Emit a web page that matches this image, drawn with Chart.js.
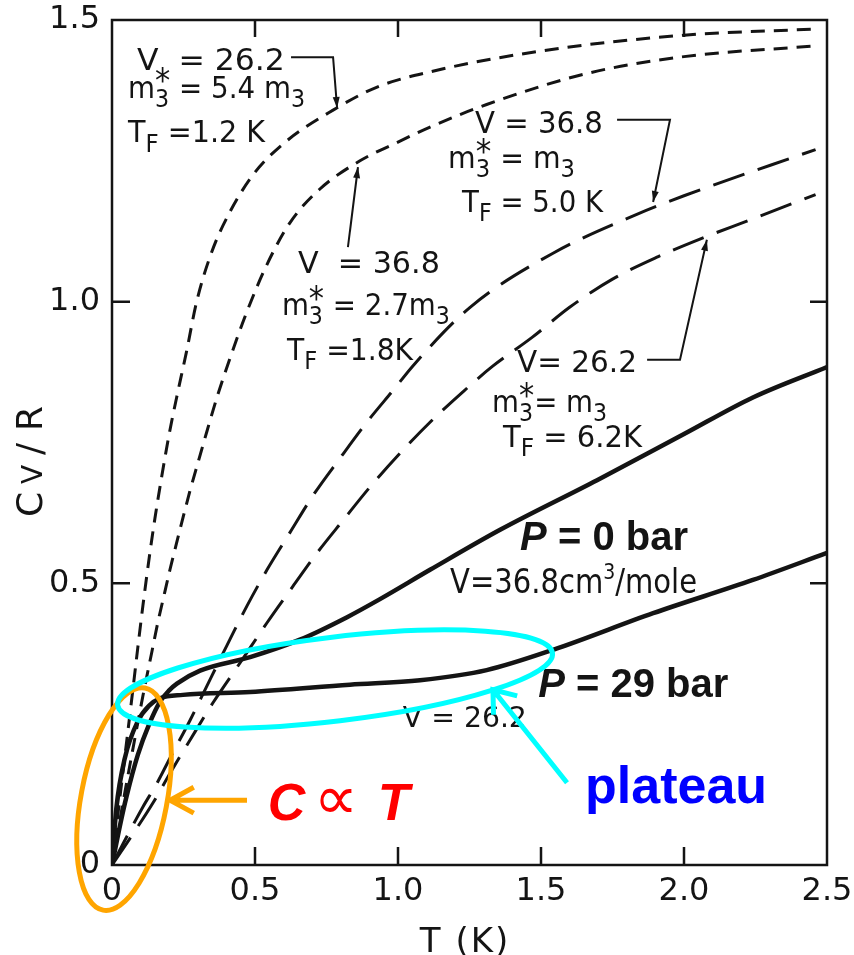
<!DOCTYPE html>
<html>
<head>
<meta charset="utf-8">
<title>Cv/R of liquid 3He</title>
<script src="https://cdn.jsdelivr.net/npm/chart.js@4.4.1/dist/chart.umd.min.js"></script>
<style>
  html, body { margin: 0; padding: 0; background: #fff; }
  #wrap { width: 854px; height: 955px; }
</style>
</head>
<body>
<div id="wrap"><canvas id="cv" width="854" height="955"></canvas></div>
<script>
// ideal Fermi gas, V=26.2, m3* = 5.4 m3, TF = 1.2 K
const T_A  = [0, 0.03, 0.055, 0.075, 0.09, 0.108, 0.13, 0.15, 0.174, 0.2, 0.226, 0.26, 0.296, 0.35, 0.413, 0.493, 0.598, 0.773, 0.927, 1.112, 1.5, 2.0, 2.46];
const CV_A = [0, 0.13, 0.235, 0.32, 0.385, 0.46, 0.545, 0.615, 0.69, 0.765, 0.83, 0.91, 1.0, 1.09, 1.16, 1.225, 1.28, 1.34, 1.381, 1.408, 1.445, 1.473, 1.484];
// ideal Fermi gas, V=36.8, m3* = 2.7 m3, TF = 1.8 K
const T_B  = [0, 0.04, 0.08, 0.108, 0.14, 0.16, 0.178, 0.203, 0.225, 0.25, 0.273, 0.301, 0.332, 0.367, 0.413, 0.47, 0.541, 0.622, 0.727, 0.867, 1.007, 1.112, 1.31, 1.66, 2.0, 2.46];
const CV_B = [0, 0.115, 0.225, 0.3, 0.38, 0.43, 0.47, 0.525, 0.57, 0.62, 0.665, 0.715, 0.77, 0.83, 0.9, 0.98, 1.065, 1.14, 1.2, 1.25, 1.285, 1.31, 1.35, 1.405, 1.435, 1.454];
// ideal Fermi gas, V=36.8, m3* = m3, TF = 5.0 K
const T_C  = [0, 0.04, 0.108, 0.157, 0.203, 0.273, 0.332, 0.402, 0.472, 0.542, 0.622, 0.703, 0.797, 0.891, 0.99, 1.052, 1.252, 1.542, 1.835, 2.0, 2.46];
const CV_C = [0, 0.039, 0.103, 0.145, 0.19, 0.257, 0.318, 0.39, 0.46, 0.524, 0.59, 0.656, 0.722, 0.786, 0.847, 0.886, 0.99, 1.086, 1.155, 1.188, 1.27];
// ideal Fermi gas, V=26.2, m3* = m3, TF = 6.2 K
const T_D  = [0, 0.06, 0.143, 0.203, 0.273, 0.353, 0.448, 0.542, 0.633, 0.717, 0.808, 0.902, 1.007, 1.112, 1.227, 1.33, 1.47, 1.6, 1.75, 1.91, 2.06, 2.23, 2.46];
const CV_D = [0, 0.045, 0.11, 0.163, 0.222, 0.288, 0.359, 0.43, 0.495, 0.554, 0.612, 0.671, 0.731, 0.786, 0.84, 0.885, 0.937, 0.99, 1.04, 1.08, 1.112, 1.145, 1.19];
// measured, P = 0 bar (V = 36.8 cm3/mole)
const T_P0  = [0, 0.03, 0.05, 0.09, 0.13, 0.168, 0.2, 0.227, 0.308, 0.483, 0.657, 0.822, 0.937, 1.112, 1.357, 1.696, 2.0, 2.241, 2.5];
const CV_P0 = [0, 0.075, 0.12, 0.195, 0.25, 0.29, 0.31, 0.322, 0.345, 0.369, 0.4, 0.44, 0.472, 0.524, 0.595, 0.683, 0.765, 0.83, 0.884];
// measured, P = 29 bar (V = 26.2)
const T_P29  = [0, 0.015, 0.045, 0.09, 0.13, 0.168, 0.248, 0.483, 0.832, 1.077, 1.31, 1.542, 1.892, 2.241, 2.5];
const CV_P29 = [0, 0.1, 0.19, 0.255, 0.283, 0.296, 0.302, 0.307, 0.32, 0.328, 0.346, 0.382, 0.447, 0.506, 0.554];

const xTickVals = [0, 0.5, 1.0, 1.5, 2.0, 2.5];
const yTickVals = [0, 0.5, 1.0, 1.5];
const xInner = [0.5, 1.0, 1.5, 2.0];
const yInner = [0.5, 1.0];

const pts = (xs, ys) => xs.map((v, i) => ({ x: v, y: ys[i] }));
const fmt = v => (v === 0 ? '0' : v.toFixed(1));

const INK = '#141414';
const SHORT = [14, 9], LONG = [33, 14];

function curve(xs, ys, dash, width) {
  return {
    data: pts(xs, ys), borderColor: INK, borderWidth: width, borderDash: dash,
    pointRadius: 0, fill: false, cubicInterpolationMode: 'monotone', borderCapStyle: 'butt'
  };
}

// text run with sub/superscripts, measured or drawn at the origin
function run(ctx, parts, size, draw) {
  let cx = 0;
  for (const p of parts) {
    if (typeof p === 'string') {
      ctx.font = `${size}px "DejaVu Sans"`;
      if (draw) ctx.fillText(p, cx, 0);
      cx += ctx.measureText(p).width;
    } else {
      let w = 0;
      if (p.sup) {
        ctx.font = `${size * (p.supK || 0.8)}px "DejaVu Sans"`;
        if (draw) ctx.fillText(p.sup, cx, -size * (p.up == null ? 0.5 : p.up));
        w = Math.max(w, ctx.measureText(p.sup).width);
      }
      if (p.sub) {
        ctx.font = `${size * 0.8}px "DejaVu Sans"`;
        if (draw) ctx.fillText(p.sub, cx, size * 0.3);
        w = Math.max(w, ctx.measureText(p.sub).width);
      }
      cx += w;
    }
  }
  return cx;
}
function label(ctx, px, py, parts, size, width) {
  const w0 = run(ctx, parts, size, false);
  ctx.save();
  ctx.translate(px, py);
  if (width) ctx.scale(width / w0, 1);
  run(ctx, parts, size, true);
  ctx.restore();
}

const MSTAR = { sup: '*', supK: 1.1, up: 0.18, sub: '3' };
const notes = [
  { at: [0.087, 1.411], parts: ['V  = 26.2'], w: 148 },
  { at: [0.056, 1.362], parts: ['m', MSTAR, ' = 5.4 m', { sub: '3' }], w: 177 },
  { at: [0.056, 1.283], parts: ['T', { sub: 'F' }, ' =1.2 K'], w: 137 },
  { at: [0.65, 1.051], parts: ['V  = 36.8'], w: 142 },
  { at: [0.594, 0.976], parts: ['m', MSTAR, ' = 2.7m', { sub: '3' }], w: 168 },
  { at: [0.612, 0.897], parts: ['T', { sub: 'F' }, ' =1.8K'], w: 126 },
  { at: [1.269, 1.3], parts: ['V = 36.8'], w: 128 },
  { at: [1.175, 1.237], parts: ['m', MSTAR, ' = m', { sub: '3' }], w: 127 },
  { at: [1.224, 1.159], parts: ['T', { sub: 'F' }, ' = 5.0 K'], w: 141 },
  { at: [1.416, 0.875], parts: ['V= 26.2'], w: 120 },
  { at: [1.329, 0.804], parts: ['m', MSTAR, '= m', { sub: '3' }], w: 115 },
  { at: [1.367, 0.742], parts: ['T', { sub: 'F' }, ' = 6.2K'], w: 139 },
  { at: [1.182, 0.483], parts: ['V=36.8cm', { sup: '3', supK: 0.65, up: 0.42 }, '/mole'], w: 247, size: 33 },
  { at: [1.017, 0.245], parts: ['V = 26.2'], w: 124, size: 28 }
];
// leader lines, arrow at the last point
const leaders = [
  [[0.626, 1.434], [0.773, 1.434], [0.787, 1.344]],
  [[0.825, 1.097], [0.86, 1.239]],
  [[1.766, 1.323], [1.951, 1.323], [1.892, 1.177]],
  [[1.871, 0.897], [1.986, 0.897], [2.08, 1.11]]
];

function arrowTip(ctx, x0, y0, x1, y1, len, half) {
  const a = Math.atan2(y1 - y0, x1 - x0);
  ctx.beginPath();
  ctx.moveTo(x1, y1);
  ctx.lineTo(x1 - len * Math.cos(a) + half * Math.sin(a), y1 - len * Math.sin(a) - half * Math.cos(a));
  ctx.lineTo(x1 - len * Math.cos(a) - half * Math.sin(a), y1 - len * Math.sin(a) + half * Math.cos(a));
  ctx.closePath();
  ctx.fill();
}
function openArrow(ctx, x0, y0, x1, y1, len, spread) {
  const a = Math.atan2(y0 - y1, x0 - x1);
  ctx.beginPath();
  ctx.moveTo(x0, y0); ctx.lineTo(x1, y1);
  ctx.moveTo(x1 + len * Math.cos(a + spread), y1 + len * Math.sin(a + spread));
  ctx.lineTo(x1, y1);
  ctx.lineTo(x1 + len * Math.cos(a - spread), y1 + len * Math.sin(a - spread));
  ctx.stroke();
}

const decor = {
  id: 'decor',
  afterDatasetsDraw(chart) {
    const { ctx, chartArea: a, scales: { x, y } } = chart;
    const X = v => x.getPixelForValue(v), Y = v => y.getPixelForValue(v);
    ctx.save();
    ctx.strokeStyle = INK; ctx.fillStyle = INK;
    ctx.lineWidth = 2.5; ctx.lineCap = 'butt';
    ctx.strokeRect(a.left, a.top, a.right - a.left, a.bottom - a.top);
    ctx.beginPath();
    xInner.forEach(v => {
      ctx.moveTo(X(v), a.bottom); ctx.lineTo(X(v), a.bottom - 18);
      ctx.moveTo(X(v), a.top); ctx.lineTo(X(v), a.top + 17);
    });
    yInner.forEach(v => {
      ctx.moveTo(a.left, Y(v)); ctx.lineTo(a.left + 18, Y(v));
      ctx.moveTo(a.right, Y(v)); ctx.lineTo(a.right - 17, Y(v));
    });
    ctx.stroke();

    // axis titles
    ctx.textBaseline = 'alphabetic';
    ctx.font = '34px "DejaVu Sans"';
    ctx.textAlign = 'center';
    ctx.letterSpacing = '2px';
    ctx.fillText('T (K)', 465, 952);
    ctx.letterSpacing = '0px';
    ctx.textAlign = 'left';
    ctx.save();
    ctx.translate(42, 517);
    ctx.rotate(-Math.PI / 2);
    ctx.font = '36px "DejaVu Sans"';
    ctx.fillText('C', 0, 0);
    ctx.fillText('/', 62, 0);
    ctx.fillText('R', 86, 0);
    ctx.font = '28px "DejaVu Sans"';
    ctx.fillText('V', 33, 0);
    ctx.restore();

    // curve labels
    notes.forEach(n => label(ctx, X(n.at[0]), Y(n.at[1]), n.parts, n.size || 31, n.w));
    ctx.lineWidth = 2;
    leaders.forEach(l => {
      ctx.beginPath();
      l.forEach((p, i) => (i ? ctx.lineTo(X(p[0]), Y(p[1])) : ctx.moveTo(X(p[0]), Y(p[1]))));
      ctx.stroke();
      const p0 = l[l.length - 2], p1 = l[l.length - 1];
      arrowTip(ctx, X(p0[0]), Y(p0[1]), X(p1[0]), Y(p1[1]), 11, 3.5);
    });

    ctx.font = 'italic bold 40px "Liberation Sans"';
    ctx.fillText('P', X(1.427), Y(0.559));
    ctx.fillText('P', X(1.49), Y(0.298));
    const wp = ctx.measureText('P').width;
    ctx.font = 'bold 40px "Liberation Sans"';
    ctx.fillText(' = 0 bar', X(1.427) + wp, Y(0.559));
    ctx.fillText(' = 29 bar', X(1.49) + wp, Y(0.298));

    // highlighted regions
    ctx.lineWidth = 5;
    ctx.strokeStyle = '#FFA500';
    ctx.beginPath();
    ctx.ellipse(X(0.042), Y(0.117), 113, 43, -1.384, 0, Math.PI * 2);
    ctx.stroke();
    openArrow(ctx, X(0.472), Y(0.115), X(0.203), Y(0.115), 27, 0.5);

    ctx.strokeStyle = '#00FFFF';
    ctx.beginPath();
    ctx.ellipse(X(0.78), Y(0.33), 219, 42, -0.119, 0, Math.PI * 2);
    ctx.stroke();
    openArrow(ctx, X(1.591), Y(0.146), X(1.332), Y(0.311), 25, 0.65);

    const cx = X(0.545), cy = Y(0.08);
    ctx.fillStyle = '#FF0000';
    ctx.font = 'italic bold 52px "Liberation Sans"';
    ctx.fillText('C', cx, cy);
    ctx.fillText('T', cx + 110, cy);
    ctx.font = '62px "DejaVu Sans"';
    ctx.fillText('\u221D', cx + 46, cy - 1);

    ctx.fillStyle = '#0000FF';
    ctx.font = 'bold 52px "Liberation Sans"';
    ctx.fillText('plateau', X(1.654), Y(0.11));
    ctx.restore();
  }
};

const tickFont = { family: 'DejaVu Sans', size: 32 };
new Chart(document.getElementById('cv'), {
  type: 'line',
  data: {
    datasets: [
      curve(T_A, CV_A, SHORT, 3),
      curve(T_B, CV_B, SHORT, 3),
      curve(T_C, CV_C, LONG, 3),
      curve(T_D, CV_D, LONG, 3),
      curve(T_P0, CV_P0, [], 4.5),
      curve(T_P29, CV_P29, [], 4.5)
    ]
  },
  options: {
    responsive: false,
    animation: false,
    devicePixelRatio: 1,
    layout: { padding: { top: 20, right: 27, left: 0, bottom: 0 } },
    plugins: { legend: { display: false }, tooltip: { enabled: false } },
    scales: {
      x: {
        type: 'linear', min: 0, max: 2.5,
        grid: { display: false, drawTicks: false }, border: { display: false },
        afterBuildTicks: s => { s.ticks = xTickVals.map(v => ({ value: v })); },
        afterFit: s => { s.height = 90; s.paddingLeft = 0; s.paddingRight = 0; },
        ticks: { padding: 7, font: tickFont, color: INK, maxRotation: 0, autoSkip: false, callback: fmt }
      },
      y: {
        type: 'linear', min: 0, max: 1.5,
        grid: { display: false, drawTicks: false }, border: { display: false },
        afterBuildTicks: s => { s.ticks = yTickVals.map(v => ({ value: v })); },
        afterFit: s => { s.width = 112; s.paddingTop = 0; s.paddingBottom = 0; },
        ticks: { padding: 12, font: tickFont, color: INK, autoSkip: false, callback: fmt }
      }
    }
  },
  plugins: [decor]
});
</script>
</body>
</html>
